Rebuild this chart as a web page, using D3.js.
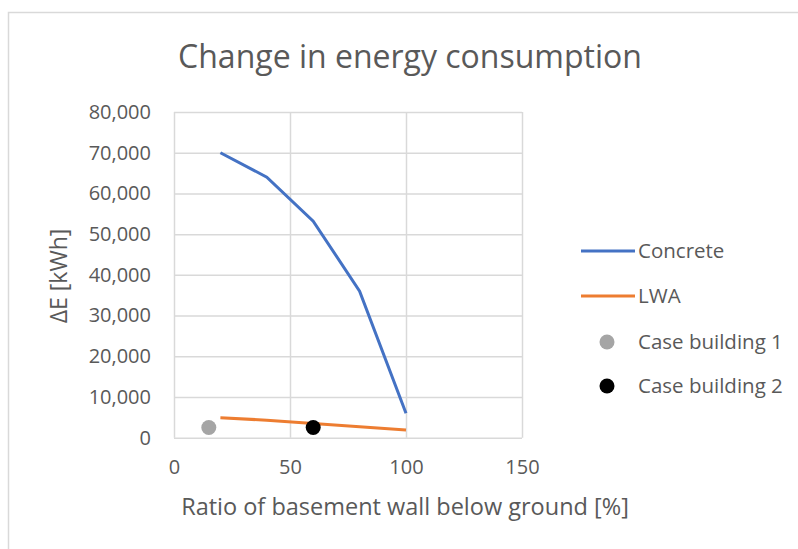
<html>
<head>
  <meta charset="UTF-8">
  <title>Change in energy consumption</title>
  <script src="https://d3js.org/d3.v7.min.js"></script>
  <style>
    body { margin: 0; background: #fff; }
    text { font-family: "Open Sans", "Noto Sans", sans-serif; fill: #595959; }
  </style>
</head>
<body>
  <svg id="svg1" width="798" height="549"></svg>

  <script>
    // data
    const ratio = [20, 40, 60, 80, 100];
    const concrete = [70000, 64000, 53200, 36000, 6000];
    const lwa = [4900, 4300, 3500, 2700, 1900];
    const caseBuildings = [
      { name: "Case building 1", x: 15, y: 2500, color: "#a5a5a5" },
      { name: "Case building 2", x: 60, y: 2500, color: "#000000" }
    ];
    const xTicks = [0, 50, 100, 150];
    const yTicks = [0, 10000, 20000, 30000, 40000, 50000, 60000, 70000, 80000];

    const svg1 = d3.select("#svg1");
    const margin = { top: 112, left: 174, right: 276, bottom: 112 };
    const plotWidth = 798 - margin.left - margin.right;
    const plotHeight = 549 - margin.top - margin.bottom + 0.7;

    // outer chart frame (only left and top edges are visible)
    svg1.append("path")
        .attr("d", "M8.5,549 V12.5 H798")
        .attr("fill", "none")
        .attr("stroke", "#d9d9d9")
        .attr("stroke-width", 1.5);

    svg1.append("text")
        .attr("x", 410)
        .attr("y", 68)
        .attr("text-anchor", "middle")
        .style("font-size", "32px")
        .text("Change in energy consumption");

    const xScale = d3.scaleLinear([0, 150], [0, plotWidth]);
    const yScale = d3.scaleLinear([0, 80000], [plotHeight, 0]);

    const plot = svg1.append("g")
        .attr("transform", `translate(${margin.left},${margin.top})`);

    // gridlines
    plot.append("g")
        .call(d3.axisLeft(yScale).tickValues(yTicks).tickFormat("").tickSize(-plotWidth))
        .call(g => g.select(".domain").remove())
        .selectAll("line").attr("stroke", "#d9d9d9").attr("stroke-width", 1.5);

    plot.append("g")
        .attr("transform", `translate(0,${plotHeight})`)
        .call(d3.axisBottom(xScale).tickValues(xTicks).tickFormat("").tickSize(-plotHeight))
        .call(g => g.select(".domain").remove())
        .selectAll("line").attr("stroke", "#d9d9d9").attr("stroke-width", 1.5);

    // tick labels
    const fmt = d3.format(",");
    plot.append("g")
        .call(d3.axisLeft(yScale).tickValues(yTicks).tickFormat(fmt).tickSize(0).tickPadding(23))
        .call(g => g.select(".domain").remove())
        .selectAll("text")
        .style("font-size", "20px")
        .attr("fill", "#595959");

    plot.append("g")
        .attr("transform", `translate(0,${plotHeight})`)
        .call(d3.axisBottom(xScale).tickValues(xTicks).tickSize(0).tickPadding(22))
        .call(g => g.select(".domain").remove())
        .selectAll("text")
        .style("font-size", "20px")
        .attr("fill", "#595959");

    // axis titles
    svg1.append("text")
        .attr("x", 405)
        .attr("y", 515)
        .attr("text-anchor", "middle")
        .style("font-size", "23.5px")
        .text("Ratio of basement wall below ground [%]");

    svg1.append("text")
        .attr("transform", "translate(67,276) rotate(-90)")
        .attr("text-anchor", "middle")
        .style("font-size", "23px")
        .text("ΔE [kWh]");

    // series lines
    const line = d3.line()
        .x((d, i) => xScale(ratio[i]))
        .y(d => yScale(d));

    plot.append("path")
        .attr("d", line(concrete))
        .attr("fill", "none")
        .attr("stroke", "#4472c4")
        .attr("stroke-width", 3);

    plot.append("path")
        .attr("d", line(lwa))
        .attr("fill", "none")
        .attr("stroke", "#ed7d31")
        .attr("stroke-width", 3);

    plot.selectAll("circle.case").data(caseBuildings).join("circle")
        .attr("class", "case")
        .attr("cx", d => xScale(d.x))
        .attr("cy", d => yScale(d.y))
        .attr("r", 7.5)
        .attr("fill", d => d.color);

    // legend
    const legend = svg1.append("g");
    const legendItems = [
      { name: "Concrete", type: "line", color: "#4472c4", y: 251 },
      { name: "LWA", type: "line", color: "#ed7d31", y: 296 },
      { name: caseBuildings[0].name, type: "dot", color: caseBuildings[0].color, y: 342 },
      { name: caseBuildings[1].name, type: "dot", color: caseBuildings[1].color, y: 386 }
    ];

    legendItems.forEach(d => {
      if (d.type === "line") {
        legend.append("line")
            .attr("x1", 581).attr("x2", 635)
            .attr("y1", d.y).attr("y2", d.y)
            .attr("stroke", d.color)
            .attr("stroke-width", 3);
      } else {
        legend.append("circle")
            .attr("cx", 607).attr("cy", d.y)
            .attr("r", 7.5)
            .attr("fill", d.color);
      }
      legend.append("text")
          .attr("x", 638)
          .attr("y", d.y)
          .attr("dy", "0.35em")
          .style("font-size", "20.5px")
          .text(d.name);
    });
  </script>
</body>
</html>
